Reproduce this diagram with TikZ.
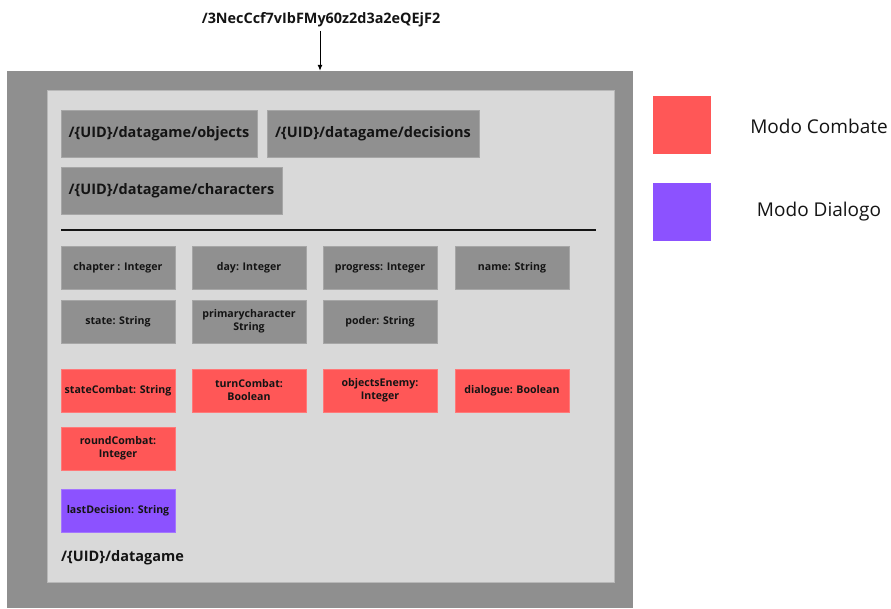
\documentclass[tikz,border=0pt]{standalone}
\usepackage{fontspec}
\setmainfont{Open Sans}
\usetikzlibrary{arrows.meta}
\definecolor{frame}{HTML}{8F8F8F}
\definecolor{panel}{HTML}{D9D9D9}
\definecolor{field}{HTML}{909090}
\definecolor{combat}{HTML}{FF5757}
\definecolor{dialog}{HTML}{8C52FF}
\definecolor{ink}{HTML}{141414}
\tikzset{
  pathbox/.style={fill=field, draw=field!80!white, line width=0.6pt, inner sep=0pt,
    minimum height=47pt, font=\fontsize{14.5}{17}\selectfont\bfseries, text=ink},
  attr/.style={fill=field, draw=field!80!white, line width=0.6pt, inner sep=0pt,
    minimum width=114pt, minimum height=43pt, align=center,
    font=\fontsize{10.6}{13}\selectfont\bfseries, text=ink},
  combatattr/.style={attr, fill=combat, draw=combat!80!white},
  dialogattr/.style={attr, fill=dialog, draw=dialog!80!white},
  swatch/.style={minimum width=58pt, minimum height=58pt, inner sep=0pt},
  legendtext/.style={font=\fontsize{19}{22}\selectfont, text=ink}
}
\begin{document}
\begin{tikzpicture}[x=1pt,y=-1pt]
\useasboundingbox[fill=white] (0,0) rectangle (891,608);

% database root and containers
\node[font=\fontsize{14.4}{17}\selectfont\bfseries, text=ink] (root) at (321,20) {/3NecCcf7vIbFMy60z2d3a2eQEjF2};
\node[fill=frame, minimum width=626pt, minimum height=537pt, inner sep=0pt] (outer) at (320,339.5) {};
\node[fill=panel, draw=panel!85!black, line width=0.5pt, minimum width=567pt, minimum height=492pt, inner sep=0pt] (inner) at (330.5,336) {};
\draw[-{Latex[length=6pt,width=5pt]}, line width=1pt] (outer.north |- root.south) -- (outer.north);

% sub-collections
\node[pathbox, minimum width=196pt] (objects) at (159,133.5) {/\{UID\}/datagame/objects};
\node[pathbox, minimum width=212pt] (decisions) at (373,133.5) {/\{UID\}/datagame/decisions};
\node[pathbox, minimum width=221pt] (characters) at (171.5,190.5) {/\{UID\}/datagame/characters};

\coordinate (sepL) at (61,230);
\coordinate (sepR) at (596,230);
\draw[line width=1.6pt, ink] (sepL) -- (sepR);

% document fields
\node[attr] (chapter) at (118,267.5) {chapter : Integer};
\node[attr] (day) at (249,267.5) {day: Integer};
\node[attr] (progress) at (380,267.5) {progress: Integer};
\node[attr] (name) at (512,267.5) {name: String};
\node[attr] (state) at (118,321.5) {state: String};
\node[attr] (primary) at (249,321.5) {primarycharacter\\String};
\node[attr] (poder) at (380,321.5) {poder: String};

\node[combatattr] (stateCombat) at (118,390.5) {stateCombat: String};
\node[combatattr] (turnCombat) at (249,390.5) {turnCombat:\\Boolean};
\node[combatattr] (objectsEnemy) at (380,390.5) {objectsEnemy:\\Integer};
\node[combatattr] (dialogue) at (512,390.5) {dialogue: Boolean};
\node[combatattr] (roundCombat) at (118,448.5) {roundCombat:\\Integer};
\node[dialogattr] (lastDecision) at (118,510.5) {lastDecision: String};

\node[anchor=west, font=\fontsize{14.5}{17}\selectfont\bfseries, text=ink, inner sep=0pt] (docpath) at (61,558) {/\{UID\}/datagame};

% legend
\node[swatch, fill=combat] (combatKey) at (682,125) {};
\node[swatch, fill=dialog] (dialogKey) at (682,212) {};
\node[legendtext] (combatLabel) at (819,126) {Modo Combate};
\node[legendtext] (dialogLabel) at (819,212) {Modo Dialogo};
\end{tikzpicture}
\end{document}
